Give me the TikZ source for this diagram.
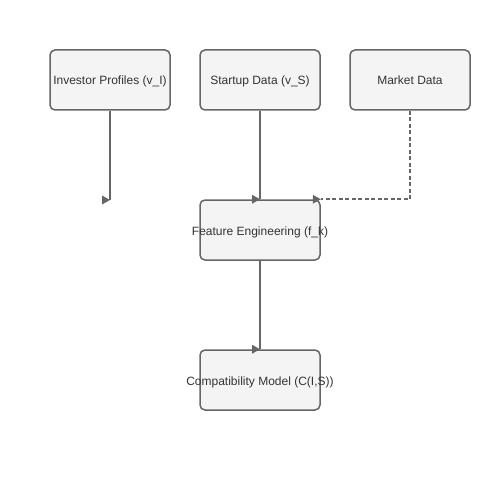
\documentclass[tikz,border=0pt]{standalone}
\usepackage{fontspec}
\setmainfont{Liberation Sans}
\definecolor{boxfill}{HTML}{F4F4F4}
\definecolor{boxline}{HTML}{666666}
\definecolor{linkcol}{HTML}{666666}
\definecolor{textcol}{HTML}{333333}
\begin{document}
\begin{tikzpicture}[x=1pt,y=-1pt,
  box/.style={draw=boxline, fill=boxfill, line width=1.5pt, rounded corners=5pt,
    minimum width=120pt, minimum height=60pt, inner sep=0pt, text=textcol,
    text height=11pt, text depth=1pt,
    font=\fontsize{12}{14}\selectfont,
    execute at begin node={\hbox to 0pt\bgroup\hss},
    execute at end node={\hss\egroup}},
  link/.style={draw=linkcol, line width=1.6pt},
  tip/.style={fill=linkcol}]
\useasboundingbox (0,0) rectangle (500,500);

% boxes
  \node[box] (inv) at (110,80) {Investor Profiles (v\_I)};
  \node[box] (start) at (260,80) {Startup Data (v\_S)};
  \node[box] (market) at (410,80) {Market Data};
  \node[box] (feat) at (260,230) {Feature Engineering (f\_k)};
  \node[box] (compat) at (260,380) {Compatibility Model (C(I,S))};

% links
  \coordinate (invend) at (110,200);
  \draw[link] (inv.south) -- (invend);
  \draw[link] (start.south) -- (feat.north);
  \draw[link, dash pattern=on 4pt off 2.5pt] (market.south) |- (feat.north east);
  \draw[link] (feat.south) -- (compat.north);

% arrow heads
  \foreach \c in {invend, feat.north, feat.north east, compat.north}
    \fill[tip] (\c) -- ++(-8,-4.5) -- ++(0,9) -- cycle;

\end{tikzpicture}
\end{document}
